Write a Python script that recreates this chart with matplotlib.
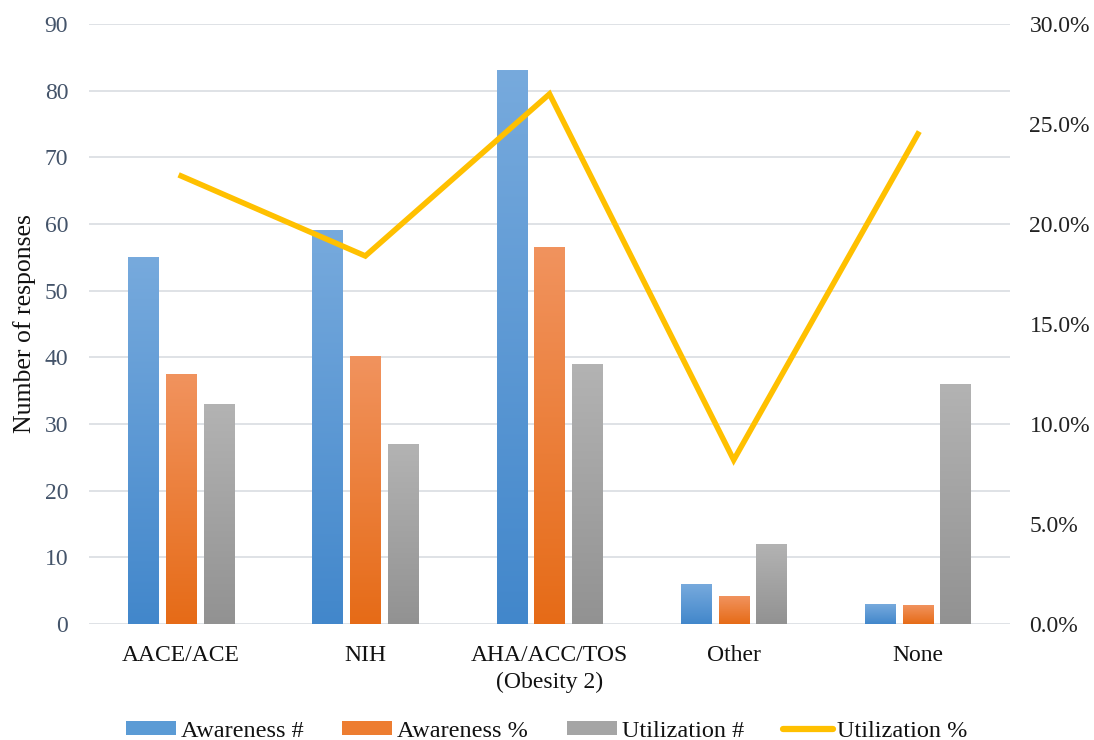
import numpy as np
import matplotlib
matplotlib.use("Agg")
import matplotlib.pyplot as plt
from matplotlib.colors import LinearSegmentedColormap
from matplotlib.patches import Patch
from matplotlib.lines import Line2D
from matplotlib.ticker import PercentFormatter

categories = ["AACE/ACE", "NIH", "AHA/ACC/TOS\n(Obesity 2)", "Other", "None"]
awareness_n = [55, 59, 83, 6, 3]
awareness_pct = [37.4, 40.1, 56.5, 4.1, 2.8]
utilization_n = [33, 27, 39, 12, 36]
utilization_pct = [0.224, 0.184, 0.265, 0.082, 0.245]

plt.rcParams["font.family"] = ["Liberation Serif", "DejaVu Serif"]

fig = plt.figure(figsize=(10.94, 7.40), dpi=100)
ax = fig.add_axes([0.0814, 0.1568, 0.8418, 0.8108])

x = np.arange(len(categories))
w = 0.165
step = 0.205

# (top colour, bottom colour) for each gradient-filled series
series = [
    (awareness_n, ("#77aadd", "#4287cb"), "Awareness #"),
    (awareness_pct, ("#f1935e", "#e66b17"), "Awareness %"),
    (utilization_n, ("#b3b3b3", "#929292"), "Utilization #"),
]

ax.set_xlim(-0.5, len(categories) - 0.5)
ax.set_ylim(0, 90)

grad = np.linspace(1, 0, 256).reshape(-1, 1)
for i, (vals, (ctop, cbot), label) in enumerate(series):
    cmap = LinearSegmentedColormap.from_list(label, [cbot, ctop])
    bars = ax.bar(x + (i - 1) * step, vals, w, color="none", edgecolor="none", zorder=2)
    for b in bars:
        bx, bw, bh = b.get_x(), b.get_width(), b.get_height()
        ax.imshow(grad, cmap=cmap, aspect="auto", extent=(bx, bx + bw, 0, bh),
                  origin="upper", zorder=2, interpolation="bilinear")
ax.set_xlim(-0.5, len(categories) - 0.5)
ax.set_ylim(0, 90)

ax.set_yticks(np.arange(0, 91, 10))
ax.grid(axis="y", color="#dfe2e6", linewidth=1.4, zorder=0)
ax.set_axisbelow(True)
for s in ax.spines.values():
    s.set_visible(False)
ax.tick_params(axis="both", length=0)
ax.tick_params(axis="y", labelsize=17, labelcolor="#44546a", pad=15)
ax.set_xticks(x)
ax.set_xticklabels(categories, fontsize=17, color="#111111", linespacing=1.4)
ax.tick_params(axis="x", pad=15)
ax.set_ylabel("Number of responses", fontsize=18.5, color="#111111", labelpad=6)

ax2 = ax.twinx()
ax2.plot(x, utilization_pct, color="#ffc000", linewidth=4.0, zorder=4,
         solid_joinstyle="miter")
ax2.set_ylim(0, 0.30)
ax2.set_yticks(np.arange(0, 0.301, 0.05))
ax2.yaxis.set_major_formatter(PercentFormatter(xmax=1, decimals=1))
ax2.tick_params(axis="y", length=0, labelsize=17, labelcolor="#222222", pad=14)
for s in ax2.spines.values():
    s.set_visible(False)

handles = [
    Patch(facecolor="#5b9bd5", edgecolor="none"),
    Patch(facecolor="#ed7d31", edgecolor="none"),
    Patch(facecolor="#a5a5a5", edgecolor="none"),
    Line2D([0], [0], color="#ffc000", linewidth=4.5, solid_capstyle="round"),
]
labels = ["Awareness #", "Awareness %", "Utilization #", "Utilization %"]
fig.legend(handles, labels, loc="center", bbox_to_anchor=(0.5, 0.012),
           ncol=4, frameon=False, fontsize=17.5, handlelength=2.05, handleheight=0.5,
           handletextpad=0.2, columnspacing=1.6, labelcolor="#111111")

fig.savefig("out.png", dpi=100)
